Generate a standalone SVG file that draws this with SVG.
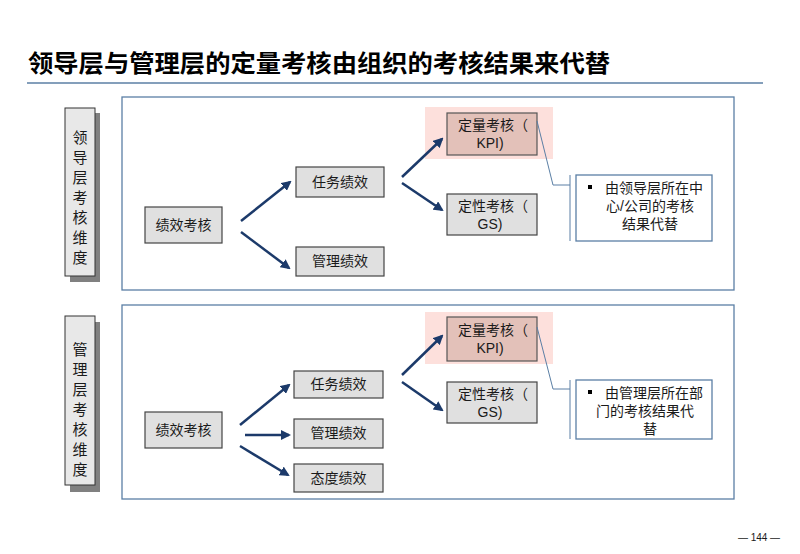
<svg xmlns="http://www.w3.org/2000/svg" width="800" height="554" viewBox="0 0 800 554">
<defs>
<style>
text{font-family:"Liberation Sans","Noto Sans CJK SC",sans-serif;fill:#1a1a1a}
.title{font-family:"Noto Sans CJK SC",sans-serif;font-size:24px;font-weight:bold;fill:#000}
.panel{fill:#fff;stroke:#5b7fa5;stroke-width:1.3}
.lab{fill:#e8e8e8;stroke:#333;stroke-width:1}
.shadow{fill:#808080}
.box{fill:#e0e0e0;stroke:#444;stroke-width:1.2}
.kpi{fill:#e3c1b9;stroke:#555;stroke-width:1.2}
.hl{fill:#fde0dc}
.t{font-size:14px;text-anchor:middle}
.vt{font-family:"Noto Sans CJK SC",sans-serif;font-size:15px;writing-mode:vertical-rl;letter-spacing:5px}
.arr{stroke:#1c3a6a;stroke-width:2.5;fill:none;marker-end:url(#ah)}
.call{fill:#fff;stroke:#5b7fa5;stroke-width:1.3}
.cl{fill:none;stroke:#5b7fa5;stroke-width:1}
.ct{font-size:14px;text-anchor:middle}
</style>
<marker id="ah" viewBox="0 0 10 10" refX="8" refY="5" markerWidth="4" markerHeight="4" orient="auto" markerUnits="strokeWidth">
<path d="M0,0 L10,5 L0,10 z" fill="#1c3a6a"/>
</marker>
</defs>
<rect width="800" height="554" fill="#fff"/>
<g id="title">
<text class="title" x="28" y="72" textLength="582" lengthAdjust="spacingAndGlyphs">领导层与管理层的定量考核由组织的考核结果来代替</text>
<line x1="27" y1="83" x2="763" y2="83" stroke="#5b7fa5" stroke-width="1.5"/>
</g>

<g id="panel-top"><rect class="panel" x="122" y="97" width="612" height="193"/></g>
<g id="panel-bottom"><rect class="panel" x="122" y="305" width="612" height="194"/></g>

<g id="label-top">
<rect class="shadow" x="70" y="113" width="30" height="169"/>
<rect class="lab" x="65" y="108" width="30" height="168"/>
<text class="vt" x="80" y="130">领导层考核维度</text>
</g>
<g id="label-bottom">
<rect class="shadow" x="70" y="322" width="30" height="170"/>
<rect class="lab" x="65" y="316" width="30" height="169"/>
<text class="vt" x="80" y="342">管理层考核维度</text>
</g>

<g id="hl-top"><rect class="hl" x="425" y="107" width="128" height="52"/></g>
<g id="hl-bottom"><rect class="hl" x="425" y="312" width="128" height="52"/></g>

<g id="n-jx-top"><rect class="box" x="145" y="207" width="77" height="36"/><text class="t" x="183.5" y="230">绩效考核</text></g>
<g id="n-rw-top"><rect class="box" x="296" y="167" width="88" height="30"/><text class="t" x="340" y="187">任务绩效</text></g>
<g id="n-gl-top"><rect class="box" x="296" y="247" width="88" height="29"/><text class="t" x="340" y="266">管理绩效</text></g>
<g id="n-kpi-top"><rect class="kpi" x="447" y="113" width="90" height="42"/><text class="t" x="493" y="130">定量考核（<tspan x="490" dy="18">KPI)</tspan></text></g>
<g id="n-gs-top"><rect class="box" x="447" y="194" width="90" height="41"/><text class="t" x="493" y="211">定性考核（<tspan x="490" dy="18">GS)</tspan></text></g>

<g id="n-jx-bottom"><rect class="box" x="145" y="412" width="77" height="36"/><text class="t" x="183.5" y="435">绩效考核</text></g>
<g id="n-rw-bottom"><rect class="box" x="294" y="371" width="89" height="27"/><text class="t" x="338.5" y="389">任务绩效</text></g>
<g id="n-gl-bottom"><rect class="box" x="294" y="419" width="89" height="29"/><text class="t" x="338.5" y="438">管理绩效</text></g>
<g id="n-td-bottom"><rect class="box" x="294" y="464" width="89" height="28"/><text class="t" x="338.5" y="483">态度绩效</text></g>
<g id="n-kpi-bottom"><rect class="kpi" x="447" y="317" width="90" height="44"/><text class="t" x="493" y="335">定量考核（<tspan x="490" dy="18">KPI)</tspan></text></g>
<g id="n-gs-bottom"><rect class="box" x="447" y="382" width="90" height="41"/><text class="t" x="493" y="399">定性考核（<tspan x="490" dy="18">GS)</tspan></text></g>

<g id="callout-top">
<rect class="call" x="576" y="175" width="136" height="66"/>
<rect x="588" y="185" width="4" height="4" fill="#000"/>
<text class="ct" x="654" y="193">由领导层所在中<tspan x="650" dy="18">心/公司的考核</tspan><tspan x="650" dy="18">结果代替</tspan></text>
</g>
<g id="callout-bottom">
<rect class="call" x="576" y="380" width="136" height="59"/>
<rect x="588" y="390" width="4" height="4" fill="#000"/>
<text class="ct" x="654" y="398">由管理层所在部<tspan x="645" dy="18">门的考核结果代</tspan><tspan x="650" dy="18">替</tspan></text>
</g>

<g id="connectors">
<path class="arr" d="M241,221 L290,182"/>
<path class="arr" d="M241,232 L289,268"/>
<path class="arr" d="M402,177 L442,139"/>
<path class="arr" d="M402,183 L442,210"/>
<path class="arr" d="M240,425 L289,385"/>
<path class="arr" d="M245,435 L289,435"/>
<path class="arr" d="M240,446 L288,475"/>
<path class="arr" d="M402,375 L442,336"/>
<path class="arr" d="M402,382 L442,410"/>
<path class="cl" d="M537,121 L553,185 L570,185 M570,175 L570,241"/>
<path class="cl" d="M537,327 L553,389 L570,389 M570,380 L570,439"/>
</g>

<g id="page">
<text x="759" y="541" font-size="10" text-anchor="middle" fill="#333">— 144 —</text>
</g>
</svg>
